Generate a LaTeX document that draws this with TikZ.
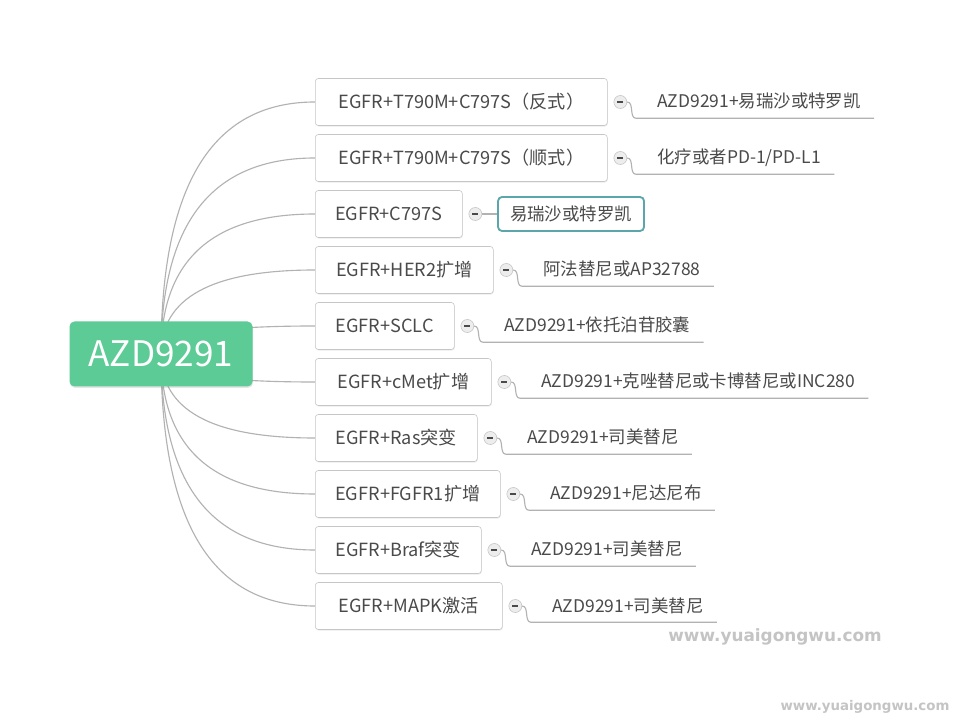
\documentclass[tikz,border=0pt]{standalone}
\usepackage{fontspec}
\setmainfont{Noto Sans CJK SC}
\newfontfamily\wmfont{DejaVu Sans}
\usetikzlibrary{positioning,backgrounds,shadows,calc}
\newdimen\pxu \pxu=0.025cm
\definecolor{rootgreen}{HTML}{5DCB96}
\definecolor{boxgray}{HTML}{C6C6C6}
\definecolor{txtgray}{HTML}{4A4A4A}
\definecolor{linegray}{HTML}{B2B2B2}
\definecolor{foldgray}{HTML}{C4C4C4}
\definecolor{foldfill}{HTML}{EDEDED}
\definecolor{leafteal}{HTML}{5AA6AA}
\definecolor{wmgray}{HTML}{C4C4C4}
\tikzset{
  root/.style={fill=rootgreen, text=white, rounded corners=5\pxu, minimum width=183\pxu,
    minimum height=65\pxu, font=\fontsize{25}{30}\selectfont,
    drop shadow={shadow xshift=0.4pt, shadow yshift=-1pt, opacity=0.2}},
  branch/.style={draw=boxgray, fill=white, rounded corners=3\pxu, minimum height=47\pxu,
    anchor=west, text=txtgray, inner xsep=0pt, font=\fontsize{12.9}{15}\selectfont,
    drop shadow={shadow xshift=0.4pt, shadow yshift=-0.8pt, opacity=0.15}},
  fold/.style={circle, draw=foldgray, fill=foldfill, minimum size=13\pxu, inner sep=0pt,
    path picture={\draw[txtgray, line width=0.9pt]
      ([xshift=-3\pxu]path picture bounding box.center) -- ([xshift=3\pxu]path picture bounding box.center);}},
  leaf/.style={text=txtgray, inner sep=0pt, text height=22\pxu, text depth=10\pxu,
    font=\fontsize{12.4}{14}\selectfont},
  leafbox/.style={draw=leafteal, line width=1.3pt, fill=white, rounded corners=4\pxu,
    minimum width=146\pxu, minimum height=34\pxu, text=txtgray, font=\fontsize{12.4}{14}\selectfont},
  link/.style={draw=linegray, line width=0.8pt},
  wmark/.style={text=wmgray}
}
\begin{document}
\begin{tikzpicture}[x=0.025cm, y=0.025cm]
\useasboundingbox (0,0) rectangle (960,-720);
% root
\node[root] (root) at (161,-354) {AZD9291};
% mutations
\node[branch, minimum width=292\pxu] (b1) at (315,-102) {EGFR+T790M+C797S（反式）};
\node[branch, minimum width=292\pxu] (b2) at (315,-158) {EGFR+T790M+C797S（顺式）};
\node[branch, minimum width=147\pxu] (b3) at (315,-214) {EGFR+C797S};
\node[branch, minimum width=178\pxu] (b4) at (315,-270) {EGFR+HER2扩增};
\node[branch, minimum width=139\pxu] (b5) at (315,-326) {EGFR+SCLC};
\node[branch, minimum width=176\pxu] (b6) at (315,-382) {EGFR+cMet扩增};
\node[branch, minimum width=162\pxu] (b7) at (315,-438) {EGFR+Ras突变};
\node[branch, minimum width=185\pxu] (b8) at (315,-494) {EGFR+FGFR1扩增};
\node[branch, minimum width=166\pxu] (b9) at (315,-550) {EGFR+Braf突变};
\node[branch, minimum width=187\pxu] (b10) at (315,-606) {EGFR+MAPK激活};
% fold marks
\node[fold, right=6\pxu of b1] (m1) {};
\node[fold, right=6\pxu of b2] (m2) {};
\node[fold, right=6\pxu of b3] (m3) {};
\node[fold, right=6\pxu of b4] (m4) {};
\node[fold, right=6\pxu of b5] (m5) {};
\node[fold, right=6\pxu of b6] (m6) {};
\node[fold, right=6\pxu of b7] (m7) {};
\node[fold, right=6\pxu of b8] (m8) {};
\node[fold, right=6\pxu of b9] (m9) {};
\node[fold, right=6\pxu of b10] (m10) {};
% treatments
\node[leaf, right=30\pxu of m1] (l1) {AZD9291+易瑞沙或特罗凯};
\node[leaf, right=30\pxu of m2] (l2) {化疗或者PD-1/PD-L1};
\node[leafbox, right=15\pxu of m3] (l3) {易瑞沙或特罗凯};
\node[leaf, right=30\pxu of m4] (l4) {阿法替尼或AP32788};
\node[leaf, right=30\pxu of m5] (l5) {AZD9291+依托泊苷胶囊};
\node[leaf, right=30\pxu of m6] (l6) {AZD9291+克唑替尼或卡博替尼或INC280};
\node[leaf, right=30\pxu of m7] (l7) {AZD9291+司美替尼};
\node[leaf, right=30\pxu of m8] (l8) {AZD9291+尼达尼布};
\node[leaf, right=30\pxu of m9] (l9) {AZD9291+司美替尼};
\node[leaf, right=30\pxu of m10] (l10) {AZD9291+司美替尼};
% watermarks
\node[wmark, font=\wmfont\bfseries\fontsize{12}{12}\selectfont] (wm1) at (775,-637) {www.yuaigongwu.com};
\node[wmark, font=\wmfont\bfseries\fontsize{9.5}{10}\selectfont] (wm2) at (865,-707) {www.yuaigongwu.com};
% curves from the root
\begin{scope}[on background layer]
\fill[white] (0,0) rectangle (960,-720);
\draw[link] (root.center) .. controls ($(root.center)!0.67!(root.center |- b1.west)$) and ($(b1.west)!0.67!(root.center |- b1.west)$) .. (b1.west);
\draw[link] (root.center) .. controls ($(root.center)!0.67!(root.center |- b2.west)$) and ($(b2.west)!0.67!(root.center |- b2.west)$) .. (b2.west);
\draw[link] (root.center) .. controls ($(root.center)!0.67!(root.center |- b3.west)$) and ($(b3.west)!0.67!(root.center |- b3.west)$) .. (b3.west);
\draw[link] (root.center) .. controls ($(root.center)!0.67!(root.center |- b4.west)$) and ($(b4.west)!0.67!(root.center |- b4.west)$) .. (b4.west);
\draw[link] (root.center) .. controls ($(root.center)!0.67!(root.center |- b5.west)$) and ($(b5.west)!0.67!(root.center |- b5.west)$) .. (b5.west);
\draw[link] (root.center) .. controls ($(root.center)!0.67!(root.center |- b6.west)$) and ($(b6.west)!0.67!(root.center |- b6.west)$) .. (b6.west);
\draw[link] (root.center) .. controls ($(root.center)!0.67!(root.center |- b7.west)$) and ($(b7.west)!0.67!(root.center |- b7.west)$) .. (b7.west);
\draw[link] (root.center) .. controls ($(root.center)!0.67!(root.center |- b8.west)$) and ($(b8.west)!0.67!(root.center |- b8.west)$) .. (b8.west);
\draw[link] (root.center) .. controls ($(root.center)!0.67!(root.center |- b9.west)$) and ($(b9.west)!0.67!(root.center |- b9.west)$) .. (b9.west);
\draw[link] (root.center) .. controls ($(root.center)!0.67!(root.center |- b10.west)$) and ($(b10.west)!0.67!(root.center |- b10.west)$) .. (b10.west);
\end{scope}
% fold to treatment
\draw[link] (m1.east) to[out=0, in=180] ([xshift=-21\pxu]l1.south west) -- ([xshift=13\pxu]l1.south east);
\draw[link] (m2.east) to[out=0, in=180] ([xshift=-21\pxu]l2.south west) -- ([xshift=13\pxu]l2.south east);
\draw[link] (m3.east) to[out=0, in=180] (l3.west);
\draw[link] (m4.east) to[out=0, in=180] ([xshift=-21\pxu]l4.south west) -- ([xshift=13\pxu]l4.south east);
\draw[link] (m5.east) to[out=0, in=180] ([xshift=-21\pxu]l5.south west) -- ([xshift=13\pxu]l5.south east);
\draw[link] (m6.east) to[out=0, in=180] ([xshift=-21\pxu]l6.south west) -- ([xshift=13\pxu]l6.south east);
\draw[link] (m7.east) to[out=0, in=180] ([xshift=-21\pxu]l7.south west) -- ([xshift=13\pxu]l7.south east);
\draw[link] (m8.east) to[out=0, in=180] ([xshift=-21\pxu]l8.south west) -- ([xshift=13\pxu]l8.south east);
\draw[link] (m9.east) to[out=0, in=180] ([xshift=-21\pxu]l9.south west) -- ([xshift=13\pxu]l9.south east);
\draw[link] (m10.east) to[out=0, in=180] ([xshift=-21\pxu]l10.south west) -- ([xshift=13\pxu]l10.south east);
\end{tikzpicture}
\end{document}
